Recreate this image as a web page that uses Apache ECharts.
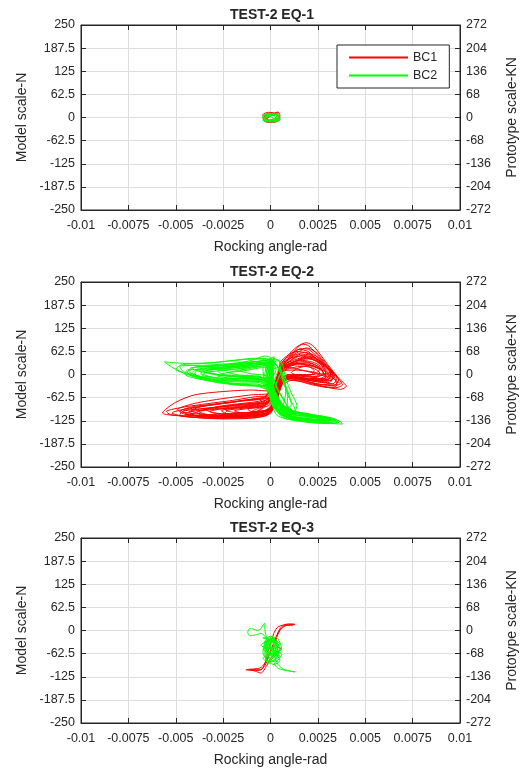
<!DOCTYPE html>
<html>
<head>
<meta charset="utf-8">
<script src="https://cdn.jsdelivr.net/npm/echarts@6/dist/echarts.min.js"></script>
<style>
html,body{margin:0;padding:0;background:#fff;}
#chart{width:527px;height:769px;}
</style>
</head>
<body>
<div id="chart"></div>
<script>
// ---------- tick labels ----------
const X_MIN = -0.01, X_MAX = 0.01, X_STEP = 0.0025;
const xTickLabels = ['-0.01','-0.0075','-0.005','-0.0025','0','0.0025','0.005','0.0075','0.01'];
const Y_MIN = -250, Y_MAX = 250, Y_STEP = 62.5;
const yTickLabels = ['-250','-187.5','-125','-62.5','0','62.5','125','187.5','250'];
const Y2_MIN = -272, Y2_MAX = 272, Y2_STEP = 68;
const y2TickLabels = ['-272','-204','-136','-68','0','68','136','204','272'];

const titles = ['TEST-2 EQ-1','TEST-2 EQ-2','TEST-2 EQ-3'];
const seriesNames = ['BC1','BC2'];
const xName = 'Rocking angle-rad';
const yName = 'Model scale-N';
const y2Name = 'Prototype scale-KN';

// ---------- EQ-1 (rocking angle rad, force N) ----------
const eq1BC1 = [[-0.0003,-8],[0.0002,11],[0.0004,15],[0.0005,6],[0.0001,-10],[-0.0002,-5],[-0.0004,8],[-0.0001,14],[0.0003,10],[0.0005,-6],[0.0002,-13],[-0.0003,-11],[-0.0004,0],[0,9],[0.0004,13],[0.0003,0],[-0.0001,-8],[-0.0003,5],[0.0001,12],[0.0005,2],[0.0003,-10],[-0.0002,-12],[-0.0004,-4],[0,4]];
const eq1BC2 = [[-0.0004,-4],[-0.0001,10],[0.0003,8],[0.0005,-4],[0.0002,-10],[-0.0002,-9],[-0.0004,4],[-0.0002,11],[0.0002,4],[0.0004,-9],[0.0001,-12],[-0.0003,-10],[-0.0004,5],[0,9],[0.0004,7],[0.0005,-1],[0.0002,-8],[-0.0003,-4],[-0.0002,8],[0.0003,10],[0.0004,0],[0,-6],[-0.0004,-8],[-0.0001,4],[0.0003,-5],[0.0005,5],[0.0001,8],[-0.0003,1],[-0.0001,-9],[0.0004,-3],[0.0002,6],[-0.0004,-2]];

// ---------- EQ-2 ----------
const eq2BC1Loops = [
 [[0.0004,10],[0.0008,35],[0.0012,60],[0.0017,82],[0.002,78],[0.0027,40],[0.0034,-10],[0.0035,-30],[0.003,-35],[0.002,-20],[0.001,-8],[0.0005,-20],[0.0002,-70],[0,-105],[-0.001,-112],[-0.0025,-115],[-0.004,-112],[-0.0052,-110],[-0.0057,-104],[-0.005,-75],[-0.004,-55],[-0.0025,-46],[-0.001,-42],[0,-45],[0.0003,-20]],
 [[0.0005,15],[0.001,45],[0.0016,70],[0.002,68],[0.0028,30],[0.0033,-5],[0.0031,-22],[0.0022,-18],[0.0012,-8],[0.0005,-30],[0.0002,-80],[-0.0002,-110],[-0.0015,-118],[-0.003,-117],[-0.0045,-108],[-0.0049,-95],[-0.004,-78],[-0.0025,-65],[-0.001,-55],[0,-50],[0.0004,-10]],
 [[0.0006,20],[0.0012,50],[0.0018,60],[0.0024,50],[0.003,20],[0.0032,0],[0.0028,-12],[0.0018,-10],[0.0009,0],[0.0004,-40],[0.0001,-95],[-0.0005,-110],[-0.002,-113],[-0.0035,-108],[-0.0042,-98],[-0.0035,-85],[-0.002,-75],[-0.0008,-65],[0,-60],[0.0003,-15]],
 [[0.0007,25],[0.0013,40],[0.0019,48],[0.0026,38],[0.0031,12],[0.0032,-8],[0.0026,-18],[0.0016,-12],[0.0008,-5],[0.0003,-60],[0,-100],[-0.0008,-108],[-0.002,-110],[-0.003,-104],[-0.0034,-95],[-0.0026,-85],[-0.0015,-78],[-0.0005,-70],[0.0002,-40],[0.0005,5]],
 [[0.0006,18],[0.0011,32],[0.0017,38],[0.0024,30],[0.0029,8],[0.0029,-8],[0.0022,-12],[0.0012,-5],[0.0006,-20],[0.0002,-85],[-0.0003,-105],[-0.0012,-110],[-0.0022,-108],[-0.0026,-98],[-0.0018,-90],[-0.0008,-82],[0,-70],[0.0004,-10]],
 [[0.0005,20],[0.0009,50],[0.0014,75],[0.0019,86],[0.0023,75],[0.0029,35],[0.0036,-10],[0.004,-32],[0.0037,-40],[0.003,-35],[0.0022,-28],[0.0012,-15],[0.0006,-30],[0.0002,-90],[-0.0003,-108],[-0.0015,-112],[-0.003,-110],[-0.0042,-105],[-0.0048,-100],[-0.0042,-88],[-0.003,-80],[-0.0015,-70],[-0.0003,-60],[0.0002,-30]],
 [[0.0007,22],[0.0012,30],[0.0016,28],[0.0022,22],[0.0027,12],[0.0028,0],[0.0022,-5],[0.0014,0],[0.0008,-10],[0.0004,-50],[0,-95],[-0.0006,-102],[-0.0015,-104],[-0.0019,-98],[-0.0012,-92],[-0.0004,-85],[0.0001,-60],[0.0005,0]],
 [[0.0006,15],[0.0011,25],[0.0015,30],[0.0019,25],[0.0023,10],[0.0021,-2],[0.0014,-3],[0.0008,-8],[0.0004,-45],[0.0001,-90],[-0.0004,-98],[-0.001,-100],[-0.0012,-94],[-0.0006,-88],[0,-75],[0.0003,-30],[0.0006,10]],
 [[0.0005,25],[0.0011,55],[0.0015,68],[0.002,62],[0.0026,30],[0.0034,-15],[0.0037,-25],[0.0032,-30],[0.0024,-25],[0.0014,-12],[0.0006,-15],[0.0002,-70],[-0.0001,-108],[-0.001,-118],[-0.0025,-120],[-0.0042,-115],[-0.0053,-108],[-0.0055,-100],[-0.0048,-90],[-0.0035,-80],[-0.002,-70],[-0.0008,-60],[0.0001,-55],[0.0003,-10]],
 [[0.0006,20],[0.0012,42],[0.0017,52],[0.0023,45],[0.003,18],[0.0035,-10],[0.0033,-25],[0.0025,-20],[0.0015,-10],[0.0007,-12],[0.0003,-55],[0,-100],[-0.0005,-112],[-0.0018,-116],[-0.0032,-114],[-0.0044,-107],[-0.0046,-100],[-0.0036,-92],[-0.0022,-86],[-0.001,-80],[0,-72],[0.0003,-20]],
 [[0.0005,10],[0.001,28],[0.0016,40],[0.0021,42],[0.0027,25],[0.0032,0],[0.003,-15],[0.0021,-15],[0.0012,-5],[0.0007,-15],[0.0003,-75],[-0.0001,-102],[-0.0009,-110],[-0.0021,-112],[-0.0036,-110],[-0.0039,-102],[-0.0031,-95],[-0.0018,-90],[-0.0006,-85],[0.0001,-65],[0.0004,0]],
 [[0.0008,15],[0.0013,28],[0.0019,32],[0.0025,22],[0.0028,5],[0.0024,-8],[0.0017,-5],[0.0011,5],[0.0015,18],[0.0021,24],[0.0026,15],[0.0023,0],[0.0015,0],[0.0008,-10],[0.0004,-40],[0.0002,-90],[-0.0003,-100],[-0.0008,-104],[-0.0005,-92],[0,-80],[0.0004,-30]],
 [[0.0006,12],[0.0012,30],[0.0018,35],[0.0024,25],[0.003,5],[0.0031,-10],[0.0025,-15],[0.0015,-8],[0.0007,-5],[0.0003,-50],[0,-92],[-0.0008,-100],[-0.002,-106],[-0.0033,-108],[-0.0038,-100],[-0.003,-90],[-0.0018,-82],[-0.0006,-75],[0.0002,-55],[0.0005,0]],
 [[0.0007,20],[0.0013,36],[0.0019,44],[0.0025,34],[0.0031,14],[0.0034,-5],[0.003,-18],[0.002,-14],[0.001,-6],[0.0004,-35],[0.0001,-85],[-0.0006,-104],[-0.0018,-110],[-0.003,-112],[-0.004,-110],[-0.0043,-103],[-0.0035,-95],[-0.002,-88],[-0.0008,-80],[0.0001,-68],[0.0004,-5]],
 [[0.0004,5],[0.0009,22],[0.0014,30],[0.002,28],[0.0026,14],[0.0029,-2],[0.0025,-12],[0.0017,-10],[0.0009,-4],[0.0004,-30],[0.0001,-80],[-0.0004,-100],[-0.0014,-106],[-0.0026,-106],[-0.0032,-100],[-0.0026,-93],[-0.0014,-88],[-0.0004,-80],[0.0002,-50],[0.0004,-5]],
 [[0.0006,18],[0.0011,40],[0.0016,55],[0.0021,52],[0.0027,32],[0.0033,5],[0.0036,-15],[0.0034,-28],[0.0026,-26],[0.0016,-16],[0.0008,-10],[0.0004,-45],[0.0001,-95],[-0.0004,-108],[-0.0016,-114],[-0.0028,-118],[-0.004,-116],[-0.0048,-110],[-0.0046,-98],[-0.0036,-86],[-0.0022,-76],[-0.001,-68],[0,-62],[0.0003,-15]],
 [[0.0008,18],[0.0014,26],[0.002,26],[0.0026,16],[0.003,0],[0.0028,-12],[0.002,-12],[0.0012,-4],[0.0006,-8],[0.0003,-60],[0,-96],[-0.0007,-104],[-0.0016,-108],[-0.0024,-104],[-0.0022,-96],[-0.0012,-90],[-0.0003,-82],[0.0002,-40],[0.0006,10]],
 [[0.0005,22],[0.001,45],[0.0015,62],[0.0019,72],[0.0024,60],[0.003,25],[0.0036,-12],[0.0038,-28],[0.0034,-36],[0.0026,-30],[0.0017,-20],[0.0008,-14],[0.0004,-50],[0.0001,-98],[-0.0004,-110],[-0.0016,-116],[-0.0032,-118],[-0.0047,-112],[-0.0052,-104],[-0.0044,-92],[-0.003,-82],[-0.0016,-72],[-0.0004,-64],[0.0002,-25]],
 [[0.0007,10],[0.0013,20],[0.0018,22],[0.0023,16],[0.0026,4],[0.0024,-6],[0.0018,-6],[0.0011,0],[0.0006,-10],[0.0002,-70],[-0.0002,-98],[-0.001,-103],[-0.002,-102],[-0.0024,-95],[-0.0016,-88],[-0.0006,-80],[0.0001,-55],[0.0005,0]],
 [[0.0006,14],[0.0012,34],[0.0018,46],[0.0023,40],[0.0029,20],[0.0033,0],[0.0032,-16],[0.0024,-18],[0.0014,-10],[0.0006,-18],[0.0002,-78],[-0.0002,-104],[-0.0012,-112],[-0.0026,-114],[-0.0038,-112],[-0.0045,-106],[-0.004,-96],[-0.0028,-88],[-0.0014,-80],[-0.0003,-72],[0.0002,-40],[0.0005,5]],
 [[0.0005,30],[0.001,55],[0.0014,62],[0.0019,58],[0.0024,45],[0.003,20],[0.0033,5],[0.003,-5],[0.0022,5],[0.0014,15],[0.0008,20],[0.0005,-20],[0.0002,-80],[-0.0002,-100],[-0.0008,-106],[-0.0004,-90],[0.0001,-60],[0.0004,0]],
 [[0.0006,25],[0.0011,45],[0.0016,50],[0.0022,42],[0.0028,26],[0.0032,10],[0.0029,0],[0.0021,8],[0.0013,12],[0.0007,10],[0.0003,-40],[0,-90],[-0.0006,-102],[-0.0012,-106],[-0.0008,-95],[-0.0002,-80],[0.0003,-30]]
];
const eq2BC2Loops = [
 [[0.0001,30],[-0.0005,42],[-0.0015,40],[-0.003,32],[-0.0045,30],[-0.0056,34],[-0.0052,20],[-0.0044,0],[-0.003,-20],[-0.0015,-30],[-0.0005,-32],[0.0001,-50],[0.0004,-80],[0.001,-98],[0.002,-110],[0.003,-118],[0.0037,-127],[0.0038,-134],[0.003,-132],[0.002,-128],[0.001,-118],[0.0004,-100],[0.0001,-60]],
 [[-0.0001,20],[-0.0008,35],[-0.002,30],[-0.0035,25],[-0.0048,22],[-0.0046,8],[-0.0035,-10],[-0.002,-24],[-0.0007,-26],[0,-40],[0.0005,-85],[0.0012,-100],[0.0022,-112],[0.0033,-120],[0.0035,-128],[0.0025,-128],[0.0013,-120],[0.0005,-105],[0.0002,-70],[0,-10]],
 [[0,45],[-0.0003,50],[-0.001,38],[-0.0025,26],[-0.004,20],[-0.0043,8],[-0.0032,-12],[-0.0018,-20],[-0.0006,-22],[0.0001,-45],[0.0006,-90],[0.0015,-106],[0.0027,-116],[0.0031,-124],[0.002,-124],[0.001,-114],[0.0004,-95],[0,-30]],
 [[-0.0002,25],[-0.0012,30],[-0.0025,20],[-0.0038,15],[-0.004,2],[-0.003,-14],[-0.0015,-18],[-0.0004,-20],[0.0002,-55],[0.0008,-95],[0.0018,-108],[0.0029,-116],[0.0033,-123],[0.0025,-125],[0.0012,-118],[0.0004,-102],[0.0001,-55]],
 [[0,35],[-0.001,28],[-0.002,22],[-0.0033,18],[-0.0036,10],[-0.0026,-3],[-0.0012,-6],[-0.0003,-10],[0.0003,-60],[0.0009,-97],[0.002,-110],[0.0028,-118],[0.0022,-122],[0.001,-112],[0.0003,-90],[-0.0001,-20]],
 [[0.0001,40],[-0.0006,36],[-0.0018,24],[-0.003,16],[-0.0032,6],[-0.0022,-4],[-0.001,-8],[0,-25],[0.0004,-75],[0.0012,-102],[0.0024,-114],[0.003,-120],[0.0026,-124],[0.0014,-116],[0.0005,-98],[0,-40]],
 [[-0.0001,30],[-0.0008,25],[-0.0018,15],[-0.0028,10],[-0.0025,0],[-0.0012,-5],[-0.0002,-12],[0.0004,-70],[0.0012,-100],[0.0022,-110],[0.0026,-116],[0.0018,-116],[0.0008,-108],[0.0002,-80],[0,0]],
 [[0,28],[-0.0007,20],[-0.0016,12],[-0.0022,5],[-0.0016,-2],[-0.0006,-5],[0.0001,-30],[0.0005,-80],[0.0012,-100],[0.002,-108],[0.0016,-112],[0.0007,-100],[0.0002,-60],[0.0001,10]],
 [[0.0002,35],[-0.0004,30],[-0.0012,18],[-0.0016,10],[-0.001,2],[-0.0002,-5],[0.0003,-50],[0.0008,-95],[0.0014,-104],[0.001,-106],[0.0004,-85],[0,-10]],
 [[0,38],[-0.0008,44],[-0.002,38],[-0.0035,30],[-0.0047,26],[-0.005,14],[-0.004,-4],[-0.0025,-20],[-0.001,-30],[-0.0002,-34],[0.0003,-75],[0.001,-100],[0.0021,-113],[0.0032,-120],[0.0036,-125],[0.0034,-132],[0.0022,-130],[0.001,-122],[0.0003,-108],[0,-50]],
 [[0.0001,20],[-0.0006,30],[-0.0016,28],[-0.003,22],[-0.0042,18],[-0.0044,4],[-0.0034,-14],[-0.002,-26],[-0.0008,-30],[-0.0001,-45],[0.0005,-90],[0.0013,-108],[0.0025,-118],[0.0034,-124],[0.0032,-130],[0.002,-127],[0.0008,-116],[0.0002,-90],[0,-20]],
 [[0.0002,48],[-0.0002,40],[-0.0012,32],[-0.0026,24],[-0.0038,20],[-0.0039,12],[-0.0028,0],[-0.0014,-8],[-0.0004,-16],[0.0002,-60],[0.0007,-96],[0.0017,-108],[0.0027,-116],[0.0029,-122],[0.0018,-120],[0.0006,-110],[0,-70],[0,10]],
 [[0.0005,20],[0.0002,-20],[0.0006,-60],[0.0009,-90],[0.0004,-100],[0,-60],[-0.0002,-10],[0.0002,30],[0.0007,0],[0.0008,-50],[0.0005,-95],[0.0001,-80],[-0.0001,-30],[0.0003,15]],
 [[0,30],[-0.0008,26],[-0.002,18],[-0.0032,12],[-0.0037,4],[-0.003,-8],[-0.0018,-14],[-0.0006,-16],[0.0002,-55],[0.0008,-92],[0.0016,-104],[0.0026,-112],[0.0031,-118],[0.0026,-122],[0.0015,-117],[0.0006,-106],[0.0001,-70],[0,20]],
 [[0.0001,36],[-0.0006,32],[-0.0016,22],[-0.0028,14],[-0.004,10],[-0.0042,2],[-0.0032,-10],[-0.0018,-16],[-0.0006,-18],[0.0003,-62],[0.0009,-95],[0.0019,-106],[0.0029,-114],[0.0034,-120],[0.003,-126],[0.0018,-122],[0.0007,-112],[0.0002,-80],[0.0001,30]],
 [[-0.0001,26],[-0.001,20],[-0.0022,12],[-0.0034,6],[-0.0036,-2],[-0.0026,-10],[-0.0012,-12],[-0.0002,-18],[0.0004,-70],[0.0011,-100],[0.0021,-110],[0.0028,-114],[0.0024,-120],[0.0012,-114],[0.0004,-100],[0,-40],[-0.0001,26]],
 [[0.0002,42],[-0.0003,38],[-0.0012,26],[-0.0024,18],[-0.0036,14],[-0.0044,12],[-0.0045,0],[-0.0036,-14],[-0.0022,-24],[-0.001,-28],[0,-35],[0.0005,-82],[0.0013,-104],[0.0024,-116],[0.0033,-124],[0.0036,-130],[0.0028,-132],[0.0016,-126],[0.0006,-114],[0.0001,-70],[0.0002,42]],
 [[0,24],[-0.0006,18],[-0.0014,10],[-0.0024,4],[-0.0028,-4],[-0.002,-10],[-0.0008,-12],[0,-24],[0.0005,-76],[0.0012,-98],[0.002,-106],[0.0024,-112],[0.0018,-112],[0.0008,-104],[0.0002,-70],[0,24]],
 [[0.0001,34],[-0.0005,28],[-0.0015,20],[-0.0026,16],[-0.0032,16],[-0.0034,8],[-0.0026,-2],[-0.0014,-8],[-0.0004,-12],[0.0003,-58],[0.001,-98],[0.002,-108],[0.003,-116],[0.0033,-122],[0.0027,-126],[0.0016,-120],[0.0006,-108],[0.0001,-60]],
 [[0.0006,10],[0.0003,-30],[0.0007,-70],[0.001,-95],[0.0006,-104],[0.0002,-75],[-0.0002,-20],[0,20],[0.0004,40],[0.0006,0],[0.0009,-60],[0.0008,-96],[0.0003,-90],[0,-50],[-0.0003,0],[0,35],[0.0005,15],[0.0008,-30],[0.0011,-80],[0.0007,-100],[0.0002,-90],[-0.0001,-40],[-0.0002,10],[0.0003,30]],
 [[-0.0003,30],[0.0001,-10],[0.0005,-50],[0.0009,-85],[0.0012,-100],[0.0008,-110],[0.0003,-95],[-0.0001,-55],[-0.0003,-20],[-0.0004,15],[0,40],[0.0004,20],[0.0007,-25],[0.001,-65],[0.0013,-95],[0.0009,-105],[0.0004,-75],[0.0001,-35],[-0.0002,5],[0.0001,45],[0.0006,30],[0.0008,-10],[0.0011,-50],[0.0014,-85],[0.0011,-108],[0.0005,-100],[0.0002,-60],[-0.0001,-15],[-0.0003,25]]
];

// ---------- EQ-3 ----------
const eq3BC1 = [[0.0013,17],[0.001,18],[0.0007,15],[0.0005,5],[0.0003,-20],[0.0001,-45],[-0.0001,-70],[-0.0003,-95],[-0.0006,-108],[-0.001,-108],[-0.0013,-106],[-0.0009,-104],[-0.0005,-100],[-0.0002,-80],[0,-55],[0.0002,-30],[0.0004,-5],[0.0007,12],[0.0012,15],[0.0008,13],[0.0005,0],[0.0003,-25],[0.0004,-45],[0.0006,-50],[0.0003,-60],[0,-75],[-0.0002,-95],[-0.0005,-115],[-0.0008,-110],[-0.0011,-105],[-0.0005,-106],[-0.0003,-90],[-0.0001,-50],[0.0001,-20],[0.0002,-5],[0.0004,10],[0.0009,16],[0.0013,16]];
const eq3BC2 = [[0,-40],[-0.0002,-20],[-0.0003,5],[-0.0003,20],[-0.0004,15],[-0.0005,5],[-0.0007,0],[-0.0009,4],[-0.0011,5],[-0.0012,-5],[-0.0011,-14],[-0.0008,-12],[-0.0005,-8],[-0.0003,-15],[-0.0001,-35],[0.0002,-60],[0.0003,-40],[0.0001,-20],[-0.0002,-45],[-0.0001,-70],[0.0002,-85],[0.0003,-65],[0.0001,-30],[-0.0003,-50],[-0.0002,-75],[0.0001,-60],[0.0003,-30],[0.0004,-55],[0.0006,-65],[0.0004,-80],[0.0002,-90],[0.0004,-102],[0.0008,-108],[0.0013,-112],[0.0011,-110],[0.0007,-105],[0.0004,-92],[0.0002,-70],[-0.0002,-55],[-0.0003,-35],[0,-25],[0.0002,-45],[-0.0001,-60],[-0.0002,-30],[0.0001,-15],[0.0003,-50],[0,-80],[-0.0002,-65],[0,-40],[0.0002,-20],[-0.0003,-40],[0.0002,-70],[0.0004,-40],[-0.0002,-25],[-0.0004,-60],[0,-85],[0.0003,-75],[0.0005,-45],[0.0001,-30],[-0.0003,-65],[-0.0001,-90],[0.0002,-55],[-0.0002,-35],[0.0003,-25],[0.0004,-70],[0,-60],[-0.0003,-45],[0,-20],[-0.0004,-20],[0.0005,-35],[-0.0003,-55],[0.0005,-70],[-0.0002,-88],[0.0004,-60],[-0.0005,-40],[0.0003,-18],[0.0006,-50],[-0.0004,-75],[0.0002,-92],[0.0005,-80],[-0.0003,-30],[0,-15],[0.0004,-45],[-0.0004,-50],[0.0001,-70]];

// ---------- build chart ----------
const plotData = [
  [eq1BC1, eq1BC2],
  [[].concat(...eq2BC1Loops), [].concat(...eq2BC2Loops)],
  [eq3BC1, eq3BC2]
];
const seriesColors = ['#ff0000', '#00ff00'];

const gridTops = [25, 282, 538];
const gridH = 185;
const gridLeft = 81, gridRight = 63;
const textColor = '#262626';
const font = 'Liberation Sans, Arial, Helvetica, sans-serif';

const grid = [], xAxis = [], yAxis = [], title = [], series = [];
gridTops.forEach((top, i) => {
  grid.push({left: gridLeft, right: gridRight, top: top, height: gridH, show: true,
    borderColor: textColor, borderWidth: 1, containLabel: false});
  title.push({text: titles[i], left: 272, top: top - 17, textAlign: 'center', padding: 0,
    textStyle: {fontFamily: font, fontSize: 14, fontWeight: 'bold', color: textColor}});
  xAxis.push({type: 'value', gridIndex: i, position: 'bottom', min: X_MIN, max: X_MAX, interval: X_STEP,
    name: xName, nameLocation: 'middle', nameGap: 30,
    nameTextStyle: {fontFamily: font, fontSize: 14, color: textColor},
    axisLine: {show: true, onZero: false, lineStyle: {color: textColor, width: 1}},
    axisTick: {show: true, inside: true, length: 5, lineStyle: {color: textColor}},
    axisLabel: {margin: 9, fontFamily: font, fontSize: 12.5, color: textColor,
      formatter: v => xTickLabels[Math.round((v - X_MIN) / X_STEP)]},
    splitLine: {show: true, lineStyle: {color: '#dedede', width: 1}}});
  xAxis.push({type: 'value', gridIndex: i, position: 'top', min: X_MIN, max: X_MAX, interval: X_STEP,
    axisLine: {show: true, onZero: false, lineStyle: {color: textColor, width: 1}},
    axisTick: {show: true, inside: true, length: 5, lineStyle: {color: textColor}},
    axisLabel: {show: false}, splitLine: {show: false}});
  yAxis.push({type: 'value', gridIndex: i, position: 'left', min: Y_MIN, max: Y_MAX, interval: Y_STEP,
    name: yName, nameLocation: 'middle', nameGap: 51, nameRotate: 90,
    nameTextStyle: {fontFamily: font, fontSize: 14, color: textColor},
    axisLine: {show: true, onZero: false, lineStyle: {color: textColor, width: 1}},
    axisTick: {show: true, inside: true, length: 5, lineStyle: {color: textColor}},
    axisLabel: {margin: 6, fontFamily: font, fontSize: 12.5, color: textColor,
      formatter: v => yTickLabels[Math.round((v - Y_MIN) / Y_STEP)]},
    splitLine: {show: true, lineStyle: {color: '#dedede', width: 1}}});
  yAxis.push({type: 'value', gridIndex: i, position: 'right', min: Y2_MIN, max: Y2_MAX, interval: Y2_STEP,
    name: y2Name, nameLocation: 'middle', nameGap: 45, nameRotate: 90,
    nameTextStyle: {fontFamily: font, fontSize: 14, color: textColor},
    axisLine: {show: true, onZero: false, lineStyle: {color: textColor, width: 1}},
    axisTick: {show: true, inside: true, length: 5, lineStyle: {color: textColor}},
    axisLabel: {margin: 6, fontFamily: font, fontSize: 12.5, color: textColor,
      formatter: v => y2TickLabels[Math.round((v - Y2_MIN) / Y2_STEP)]},
    splitLine: {show: false}});
  plotData[i].forEach((d, k) => {
    series.push({type: 'line', name: seriesNames[k], xAxisIndex: i * 2, yAxisIndex: i * 2,
      data: d, symbol: 'none', showSymbol: false, smooth: 0.25, silent: true,
      lineStyle: {color: seriesColors[k], width: 1}, itemStyle: {color: seriesColors[k]},
      z: 2 + k});
  });
});

const chart = echarts.init(document.getElementById('chart'), null, {renderer: 'canvas'});
chart.setOption({
  animation: false,
  backgroundColor: '#ffffff',
  title: title,
  grid: grid,
  xAxis: xAxis,
  yAxis: yAxis,
  legend: {
    data: seriesNames, orient: 'vertical', left: 337, top: 45, width: 112,
    padding: [6, 12, 6, 12], itemGap: 5, itemWidth: 59, itemHeight: 13,
    backgroundColor: '#ffffff', borderColor: textColor, borderWidth: 1,
    textStyle: {fontFamily: font, fontSize: 12.5, color: textColor},
    lineStyle: {width: 2}, icon: 'path://M0,5 L59,5 L59,7 L0,7 Z'
  },
  series: series
});
</script>
</body>
</html>
